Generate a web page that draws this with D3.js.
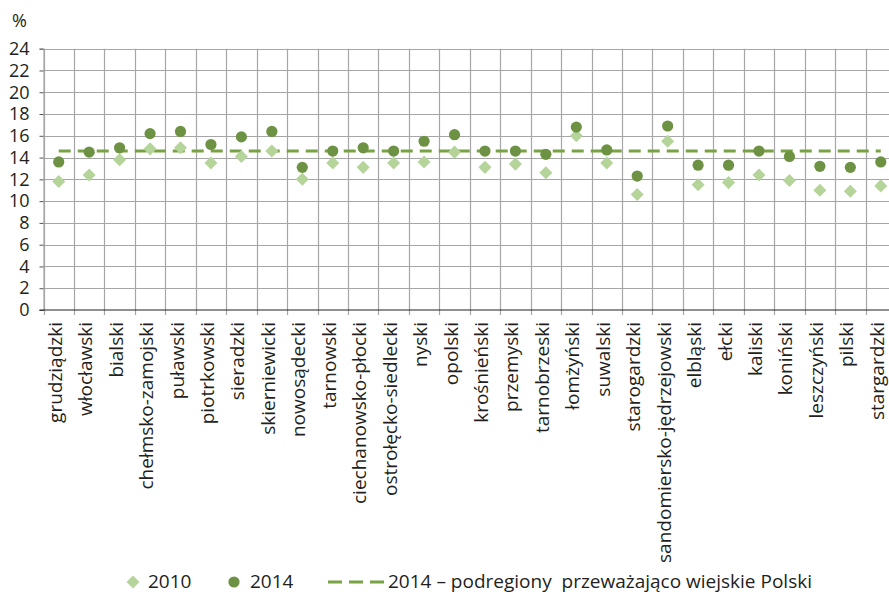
<!DOCTYPE html>
<html>
<head>
<meta charset="utf-8">
<script src="https://cdn.jsdelivr.net/npm/d3@7"></script>
<style>
  body { margin: 0; background: #fff; }
  svg { display: block; font-family: "Open Sans", sans-serif; }
</style>
</head>
<body>
<div id="chart"></div>
<script>
const regions = [
  'grudziądzki', 'włocławski', 'bialski', 'chełmsko-zamojski', 'puławski',
  'piotrkowski', 'sieradzki', 'skierniewicki', 'nowosądecki', 'tarnowski',
  'ciechanowsko-płocki', 'ostrołęcko-siedlecki', 'nyski', 'opolski',
  'krośnieński', 'przemyski', 'tarnobrzeski', 'łomżyński', 'suwalski',
  'starogardzki', 'sandomiersko-jędrzejowski', 'elbląski', 'ełcki', 'kaliski',
  'koniński', 'leszczyński', 'pilski', 'stargardzki'
];
const values2010 = [
  11.8, 12.4, 13.8, 14.8, 14.9, 13.5, 14.1, 14.6, 12.0, 13.5,
  13.1, 13.5, 13.6, 14.5, 13.1, 13.4, 12.6, 16.0, 13.5, 10.6,
  15.5, 11.5, 11.7, 12.4, 11.9, 11.0, 10.9, 11.4
];
const values2014 = [
  13.6, 14.5, 14.9, 16.2, 16.4, 15.2, 15.9, 16.4, 13.1, 14.6,
  14.9, 14.6, 15.5, 16.1, 14.6, 14.6, 14.3, 16.8, 14.7, 12.3,
  16.9, 13.3, 13.3, 14.6, 14.1, 13.2, 13.1, 13.6
];
const ruralAvg2014 = 14.6;
const yTicks = d3.range(0, 25, 2);
const legendLabels = ['2010', '2014', '2014 – podregiony  przeważająco wiejskie Polski'];

const width = 889;
const height = 594;
const plot = { left: 43.5, right: 896, top: 48.7, bottom: 310 };

const colDiamond = '#b5d49a';
const colCircle = '#6d9243';
const colLine = '#79a245';
const colGrid = '#a6a6a6';
const colText = '#231f20';

const svg = d3.select('#chart')
  .append('svg')
  .attr('width', width)
  .attr('height', height);

const x = d3.scaleBand()
  .domain(regions)
  .range([plot.left, plot.right])
  .padding(0);

const y = d3.scaleLinear()
  .domain([0, 24])
  .range([plot.bottom, plot.top]);

// horizontal grid
svg.append('g')
  .selectAll('line')
  .data(yTicks.filter(d => d > 0))
  .enter()
  .append('line')
  .attr('x1', plot.left)
  .attr('x2', plot.right)
  .attr('y1', d => Math.round(y(d)) + 0.5)
  .attr('y2', d => Math.round(y(d)) + 0.5)
  .attr('stroke', colGrid)
  .attr('stroke-width', 1.2);

// vertical grid + ticks below axis
const bounds = regions.map(r => x(r)).concat([plot.right]);
svg.append('g')
  .selectAll('line')
  .data(bounds)
  .enter()
  .append('line')
  .attr('x1', d => Math.round(d) + 0.5)
  .attr('x2', d => Math.round(d) + 0.5)
  .attr('y1', plot.top)
  .attr('y2', plot.bottom + 5)
  .attr('stroke', colGrid)
  .attr('stroke-width', 1.2);

// y axis
const yAxis = svg.append('g')
  .attr('transform', `translate(${plot.left},0)`)
  .call(d3.axisLeft(y).tickValues(yTicks).tickSize(4).tickPadding(10));
yAxis.select('.domain').attr('stroke', colGrid).attr('stroke-width', 1.2);
yAxis.selectAll('.tick line').attr('stroke', '#555');
yAxis.selectAll('.tick text')
  .attr('fill', colText)
  .style('font-size', '18px')
  .style('font-family', '"Open Sans", sans-serif');

// x axis baseline
svg.append('line')
  .attr('x1', plot.left - 4)
  .attr('x2', plot.right)
  .attr('y1', plot.bottom)
  .attr('y2', plot.bottom)
  .attr('stroke', '#222')
  .attr('stroke-width', 1.2);

// category labels
svg.append('g')
  .selectAll('text')
  .data(regions)
  .enter()
  .append('text')
  .attr('transform', d => `translate(${x(d) + x.bandwidth() / 2 + 3},322) rotate(-90)`)
  .attr('text-anchor', 'end')
  .attr('fill', colText)
  .style('font-size', '19px')
  .text(d => d);

// unit label
svg.append('text')
  .attr('x', 12)
  .attr('y', 27)
  .attr('fill', colText)
  .style('font-size', '18px')
  .text('%');

// dashed reference line
svg.append('line')
  .attr('x1', x(regions[0]) + x.bandwidth() / 2)
  .attr('x2', x(regions[regions.length - 1]) + x.bandwidth() / 2)
  .attr('y1', y(ruralAvg2014))
  .attr('y2', y(ruralAvg2014))
  .attr('stroke', colLine)
  .attr('stroke-width', 3)
  .attr('stroke-dasharray', '12,7');

const diamond = d3.symbol().type(d3.symbolSquare).size(85);

// 2010
svg.append('g')
  .selectAll('path')
  .data(values2010)
  .enter()
  .append('path')
  .attr('d', diamond)
  .attr('transform', (d, i) => `translate(${x(regions[i]) + x.bandwidth() / 2},${y(d)}) rotate(45)`)
  .attr('fill', colDiamond);

// 2014
svg.append('g')
  .selectAll('circle')
  .data(values2014)
  .enter()
  .append('circle')
  .attr('cx', (d, i) => x(regions[i]) + x.bandwidth() / 2)
  .attr('cy', d => y(d))
  .attr('r', 5.6)
  .attr('fill', colCircle);

// legend
const legend = svg.append('g').style('font-size', '19px').attr('fill', colText);
legend.append('path')
  .attr('d', diamond)
  .attr('transform', 'translate(133,582) rotate(45)')
  .attr('fill', colDiamond);
legend.append('text').attr('x', 148).attr('y', 588).text(legendLabels[0]);
legend.append('circle')
  .attr('cx', 234).attr('cy', 582).attr('r', 5.6)
  .attr('fill', colCircle);
legend.append('text').attr('x', 250).attr('y', 588).text(legendLabels[1]);
legend.append('line')
  .attr('x1', 328).attr('x2', 384)
  .attr('y1', 582).attr('y2', 582)
  .attr('stroke', colLine)
  .attr('stroke-width', 3)
  .attr('stroke-dasharray', '14,7');
legend.append('text')
  .attr('x', 388).attr('y', 588)
  .attr('xml:space', 'preserve')
  .style('white-space', 'pre')
  .text(legendLabels[2]);
</script>
</body>
</html>
